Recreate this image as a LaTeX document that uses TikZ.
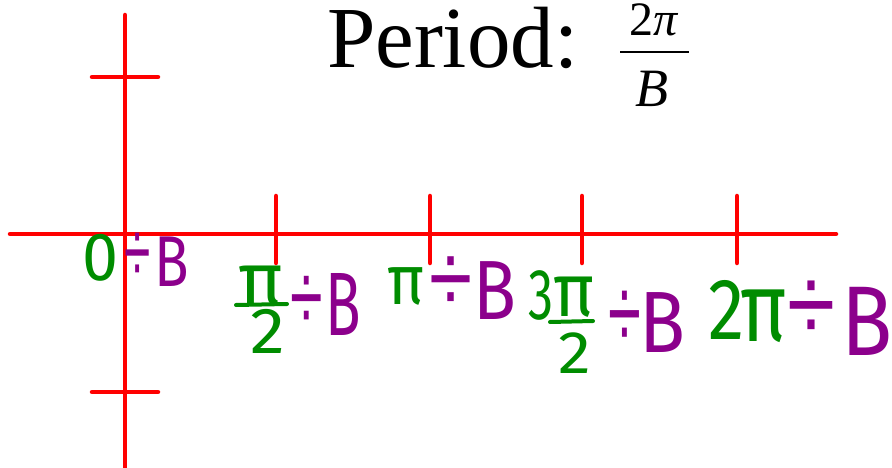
\documentclass[tikz,border=0pt]{standalone}
\usepackage{fontspec}
\usepackage{graphicx}
\setmainfont{Liberation Serif}
\newfontfamily\hwfont{Fira Sans}
\newfontfamily\divfont{Liberation Sans}
\definecolor{hwgreen}{RGB}{0,140,0}
\definecolor{hwpurple}{RGB}{140,0,140}
\definecolor{axisred}{RGB}{255,0,0}
\newcommand\hwtext[3]{\scalebox{#2}[1]{\hwfont\fontsize{#1}{#1}\selectfont #3}}
\newcommand\divtext[2]{\scalebox{#2}[1.43]{\divfont\fontsize{#1}{#1}\selectfont ÷}}
\begin{document}
\begin{tikzpicture}[x=1pt,y=-1pt,
  axisline/.style={draw=axisred,line width=4.5pt,line cap=round},
  hwg/.style={text=hwgreen,inner sep=0pt,outer sep=0pt,anchor=center},
  hwp/.style={text=hwpurple,inner sep=0pt,outer sep=0pt,anchor=center},
  hwbar/.style={draw=hwgreen,line width=4pt,line cap=round},
  ttl/.style={inner sep=0pt,outer sep=0pt,text=black}]
\useasboundingbox (0,0) rectangle (892,468);
% axes
\coordinate (vtop) at (125,15);
\coordinate (vbot) at (125,472);
\coordinate (hl) at (10,234);
\coordinate (hr) at (836,234);
\draw[axisline] (vtop) -- (vbot);
\draw[axisline] (hl) -- (hr);
% ticks on vertical axis
\coordinate (ta1) at (92,77); \coordinate (ta2) at (158,77);
\coordinate (tb1) at (92,392); \coordinate (tb2) at (158,392);
\draw[axisline] (ta1) -- (ta2);
\draw[axisline] (tb1) -- (tb2);
% ticks on horizontal axis
\foreach \i/\xx in {1/276,2/430,3/582,4/737}{
  \coordinate (tt\i) at (\xx,196);
  \coordinate (tu\i) at (\xx,263);
  \draw[axisline] (tt\i) -- (tu\i);
}
% title
\node[ttl,anchor=base west,font=\fontsize{87}{87}\selectfont] (title) at (327,68) {Period:};
\node[ttl,anchor=base,font=\fontsize{48}{48}\selectfont] (num) at (654,36) {2\textit{π}};
\node[ttl,anchor=base,font=\fontsize{54}{54}\selectfont] (den) at (652,107) {\textit{B}};
\coordinate (fb1) at (620,52); \coordinate (fb2) at (689,52);
\draw[line width=2pt] (fb1) -- (fb2);
% label 0 / B
\node[hwg] (z0) at (101,258) {\hwtext{68}{0.95}{0}};
\node[hwp] (d0) at (138,258) {\divtext{62}{0.77}};
\node[hwp] (b0) at (172,262) {\hwtext{72}{0.79}{B}};
% label pi/2 / B
\node[hwg] (p1) at (261,286) {\hwtext{75}{1.0}{π}};
\coordinate (f1a) at (236,305); \coordinate (f1b) at (287,304);
\draw[hwbar] (f1a) -- (f1b);
\node[hwg] (t1) at (268,331) {\hwtext{65}{1.08}{2}};
\node[hwp] (d1) at (307,303) {\divtext{68}{0.87}};
\node[hwp] (b1) at (343,304) {\hwtext{90}{0.65}{B}};
% label pi / B
\node[hwg] (p2) at (406,286) {\hwtext{70}{0.89}{π}};
\node[hwp] (d2) at (451,285) {\divtext{70}{1.12}};
\node[hwp] (b2) at (495,291) {\hwtext{84}{0.84}{B}};
% label 3pi/2 / B
\node[hwg] (th3) at (541,295) {\hwtext{72}{0.7}{3}};
\node[hwg] (p3) at (574,297) {\hwtext{75}{0.92}{π}};
\coordinate (f3a) at (550,322); \coordinate (f3b) at (593,321);
\draw[hwbar] (f3a) -- (f3b);
\node[hwg] (t3) at (575,353) {\hwtext{60}{1.1}{2}};
\node[hwp] (d3) at (625,320) {\divtext{72}{0.83}};
\node[hwp] (b3) at (663,323) {\hwtext{87}{0.87}{B}};
% label 2pi / B
\node[hwg] (tw4) at (727,310) {\hwtext{87}{0.84}{2}};
\node[hwg] (p4) at (764,316) {\hwtext{98}{0.8}{π}};
\node[hwp] (d4) at (811,311) {\divtext{76}{1.15}};
\node[hwp] (b4) at (867,321) {\hwtext{99}{0.85}{B}};
\end{tikzpicture}
\end{document}
